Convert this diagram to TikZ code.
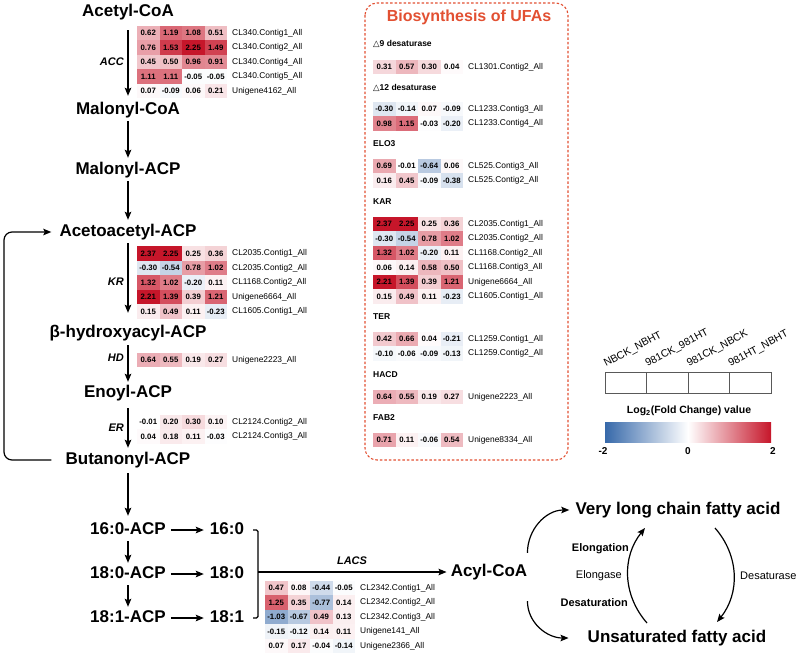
\documentclass[tikz,border=0pt]{standalone}
\usepackage{fontspec}
\setmainfont{Liberation Sans}
\newfontfamily\symfont{DejaVu Sans}
\usetikzlibrary{arrows.meta}
\definecolor{hmred}{RGB}{198,22,42}
\definecolor{hmblue}{RGB}{55,105,170}
\definecolor{ufared}{RGB}{226,80,50}
\def\hmw{22.5}
\def\hmh{14.5}
\newcommand\hmrow[4]{%
  \foreach \v [count=\i] in {#3} {%
    \pgfmathtruncatemacro\hmpct{min(100,abs(\v)*55)}%
    \pgfmathtruncatemacro\hmisneg{\v<0}%
    \ifnum\hmisneg=1 \def\hmcol{hmblue}\else\def\hmcol{hmred}\fi
    \fill[\hmcol!\hmpct!white] ({#1+(\i-1)*\hmw},{#2-\hmh/2}) rectangle ++(\hmw,\hmh);
    \node[num] at ({#1+(\i-0.5)*\hmw},#2) {\v};
  }%
  \node[gene] at ({#1+4*\hmw+5},#2) {#4};
}
\begin{document}
\begin{tikzpicture}[x=1pt,y=-1pt,
  cpd/.style={font=\fontsize{17}{20}\selectfont\bfseries, inner sep=1pt, text height=12.5pt, text depth=3.5pt},
  enz/.style={font=\fontsize{11}{13}\selectfont\bfseries\itshape, anchor=east, inner sep=0},
  num/.style={font=\fontsize{7.8}{9}\selectfont\bfseries, inner sep=0},
  gene/.style={font=\fontsize{8.4}{10}\selectfont, inner sep=0, anchor=west},
  hdr/.style={font=\fontsize{8.5}{10}\selectfont\bfseries, inner sep=0, anchor=west},
  small/.style={font=\fontsize{11}{13}\selectfont, inner sep=0},
  legtxt/.style={font=\fontsize{10.5}{12}\selectfont, rotate=28, anchor=south west, inner sep=0},
  arr/.style={-{Stealth[length=8pt,width=6.5pt,inset=1.5pt]}, line width=1.2pt},
]
\useasboundingbox (0,0) rectangle (800,654);

% ---------- left pathway ----------
\node[cpd] (acetyl) at (128,12) {Acetyl-CoA};
\node[cpd] (malcoa) at (128,110) {Malonyl-CoA};
\node[cpd] (malacp) at (128,170) {Malonyl-ACP};
\node[cpd] (acetoacetyl) at (128,232) {Acetoacetyl-ACP};
\node[cpd] (hydroxy) at (128,333) {β-hydroxyacyl-ACP};
\node[cpd] (enoyl) at (128,393) {Enoyl-ACP};
\node[cpd] (butanonyl) at (128,460) {Butanonyl-ACP};
\node[cpd] (c160acp) at (128,530) {16:0-ACP};
\node[cpd] (c180acp) at (128,574) {18:0-ACP};
\node[cpd] (c181acp) at (128,618) {18:1-ACP};
\node[cpd] (c160) at (227,530) {16:0};
\node[cpd] (c180) at (227,574) {18:0};
\node[cpd] (c181) at (227,618) {18:1};
\node[cpd] (acyl) at (489,572) {Acyl-CoA};

\draw[arr, shorten <=9pt, shorten >=5pt] (acetyl) -- (malcoa);
\draw[arr, shorten <=2pt, shorten >=3pt] (malcoa) -- (malacp);
\draw[arr, shorten <=2pt, shorten >=3pt] (malacp) -- (acetoacetyl);
\draw[arr, shorten <=2pt, shorten >=11pt] (acetoacetyl) -- (hydroxy);
\draw[arr, shorten <=3pt, shorten >=2pt] (hydroxy) -- (enoyl);
\draw[arr, shorten <=6pt, shorten >=3pt] (enoyl) -- (butanonyl);
\draw[arr, shorten <=4pt, shorten >=5pt] (butanonyl) -- (c160acp);
\draw[arr, shorten <=2pt, shorten >=2pt] (c160acp) -- (c180acp);
\draw[arr, shorten <=2pt, shorten >=2pt] (c180acp) -- (c181acp);
\draw[arr, shorten <=4pt, shorten >=5pt] (c160acp) -- (c160);
\draw[arr, shorten <=4pt, shorten >=5pt] (c180acp) -- (c180);
\draw[arr, shorten <=4pt, shorten >=5pt] (c181acp) -- (c181);

\coordinate (loopx) at (4,0);
\draw[arr, rounded corners=8pt] ([xshift=-13pt]butanonyl.west) -- (loopx |- butanonyl.west) -- (loopx |- acetoacetyl.west) -- ([xshift=-7pt]acetoacetyl.west);

\coordinate (brx) at (258,0);
\draw[line width=1.2pt, rounded corners=1.5pt] ([xshift=8pt]c160.east) -- (brx |- c160.east) -- (brx |- c181.east) -- ([xshift=8pt]c181.east);
\draw[arr, shorten >=3pt] (brx |- acyl.west) -- (acyl.west);
\node[enz, anchor=center] (lacs) at (352,561) {LACS};

\node[enz] (acc) at (124,62) {ACC};
\node[enz] (kr) at (124,282) {KR};
\node[enz] (hd) at (124,358) {HD};
\node[enz] (er) at (124,428) {ER};

% ---------- heatmaps left ----------
\hmrow{137}{33}{0.62,1.19,1.08,0.51}{CL340.Contig1\_All}
\hmrow{137}{47.5}{0.76,1.53,2.25,1.49}{CL340.Contig2\_All}
\hmrow{137}{62}{0.45,0.50,0.96,0.91}{CL340.Contig4\_All}
\hmrow{137}{76.5}{1.11,1.11,-0.05,-0.05}{CL340.Contig5\_All}
\hmrow{137}{91}{0.07,-0.09,0.06,0.21}{Unigene4162\_All}

\hmrow{137}{253.5}{2.37,2.25,0.25,0.36}{CL2035.Contig1\_All}
\hmrow{137}{268}{-0.30,-0.54,0.78,1.02}{CL2035.Contig2\_All}
\hmrow{137}{282.5}{1.32,1.02,-0.20,0.11}{CL1168.Contig2\_All}
\hmrow{137}{297}{2.21,1.39,0.39,1.21}{Unigene6664\_All}
\hmrow{137}{311.5}{0.15,0.49,0.11,-0.23}{CL1605.Contig1\_All}

\hmrow{137}{360}{0.64,0.55,0.19,0.27}{Unigene2223\_All}

\hmrow{137}{422}{-0.01,0.20,0.30,0.10}{CL2124.Contig2\_All}
\hmrow{137}{436.5}{0.04,0.18,0.11,-0.03}{CL2124.Contig3\_All}

\hmrow{265}{588}{0.47,0.08,-0.44,-0.05}{CL2342.Contig1\_All}
\hmrow{265}{602.5}{1.25,0.35,-0.77,0.14}{CL2342.Contig2\_All}
\hmrow{265}{617}{-1.03,-0.67,0.49,0.13}{CL2342.Contig3\_All}
\hmrow{265}{631.5}{-0.15,-0.12,0.14,0.11}{Unigene141\_All}
\hmrow{265}{646}{0.07,0.17,-0.04,-0.14}{Unigene2366\_All}

% ---------- UFA box ----------
\draw[ufared, line width=1.1pt, dash pattern=on 2.5pt off 2pt, rounded corners=12pt] (365,3) rectangle (568,460);
\node[font=\fontsize{16}{19}\selectfont\bfseries, text=ufared] (title) at (469,17) {Biosynthesis of UFAs};

\node[hdr] (h1) at (373,44) {{\symfont △}9 desaturase};
\hmrow{373}{67}{0.31,0.57,0.30,0.04}{CL1301.Contig2\_All}
\node[hdr] (h2) at (373,88) {{\symfont △}12 desaturase};
\hmrow{373}{109}{-0.30,-0.14,0.07,-0.09}{CL1233.Contig3\_All}
\hmrow{373}{123.5}{0.98,1.15,-0.03,-0.20}{CL1233.Contig4\_All}
\node[hdr] (h3) at (373,144) {ELO3};
\hmrow{373}{166}{0.69,-0.01,-0.64,0.06}{CL525.Contig3\_All}
\hmrow{373}{180.5}{0.16,0.45,-0.09,-0.38}{CL525.Contig2\_All}
\node[hdr] (h4) at (373,202) {KAR};
\hmrow{373}{224}{2.37,2.25,0.25,0.36}{CL2035.Contig1\_All}
\hmrow{373}{238.5}{-0.30,-0.54,0.78,1.02}{CL2035.Contig2\_All}
\hmrow{373}{253}{1.32,1.02,-0.20,0.11}{CL1168.Contig2\_All}
\hmrow{373}{267.5}{0.06,0.14,0.58,0.50}{CL1168.Contig3\_All}
\hmrow{373}{282}{2.21,1.39,0.39,1.21}{Unigene6664\_All}
\hmrow{373}{296.5}{0.15,0.49,0.11,-0.23}{CL1605.Contig1\_All}
\node[hdr] (h5) at (373,317) {TER};
\hmrow{373}{339}{0.42,0.66,0.04,-0.21}{CL1259.Contig1\_All}
\hmrow{373}{353.5}{-0.10,-0.06,-0.09,-0.13}{CL1259.Contig2\_All}
\node[hdr] (h6) at (373,375) {HACD};
\hmrow{373}{397}{0.64,0.55,0.19,0.27}{Unigene2223\_All}
\node[hdr] (h7) at (373,418) {FAB2};
\hmrow{373}{440}{0.71,0.11,-0.06,0.54}{Unigene8334\_All}

% ---------- legend ----------
\foreach \lab [count=\i from 0] in {NBCK\_NBHT,981CK\_981HT,981CK\_NBCK,981HT\_NBHT} {
  \draw[gray!70!black, line width=0.8pt, fill=white] ({605+\i*41.5},372) rectangle ++(41.5,21);
  \node[legtxt] at ({607+\i*41.5},369) {\lab};
}
\node[font=\fontsize{10.5}{12}\selectfont\bfseries] (legtitle) at (689,411) {Log\textsubscript{2}(Fold Change) value};
\shade[left color=hmblue, right color=hmred, middle color=white] (605,422) rectangle (771,442);
\node[font=\fontsize{10}{12}\selectfont\bfseries] at (603,451) {-2};
\node[font=\fontsize{10}{12}\selectfont\bfseries] at (688,451) {0};
\node[font=\fontsize{10}{12}\selectfont\bfseries] at (773,451) {2};

% ---------- bottom right cycle ----------
\node[cpd] (vlc) at (678,510) {Very long chain fatty acid};
\node[cpd] (ufa) at (677,638) {Unsaturated fatty acid};
\draw[arr] ([xshift=-1pt,yshift=10pt]acyl.north east) to[out=90,in=180] ([xshift=-5pt]vlc.west);
\draw[arr] ([xshift=-1pt,yshift=-20pt]acyl.south east) to[out=-90,in=180] ([xshift=-18pt]ufa.west);
\coordinate (elS) at (647,623);
\coordinate (elE) at (645,528);
\coordinate (dsS) at (715,528);
\coordinate (dsE) at (717,622);
\draw[arr] (elS) to[bend left=40] (elE);
\draw[arr] (dsS) to[bend left=40] (dsE);
\node[small, font=\fontsize{11}{13}\selectfont\bfseries, anchor=east] (elong) at (629,549) {Elongation};
\node[small, anchor=east] (elongase) at (622,576) {Elongase};
\node[small, font=\fontsize{11}{13}\selectfont\bfseries, anchor=east] (desat) at (628,603) {Desaturation};
\node[small, anchor=west] (desatase) at (740,576) {Desaturase};
\end{tikzpicture}
\end{document}
